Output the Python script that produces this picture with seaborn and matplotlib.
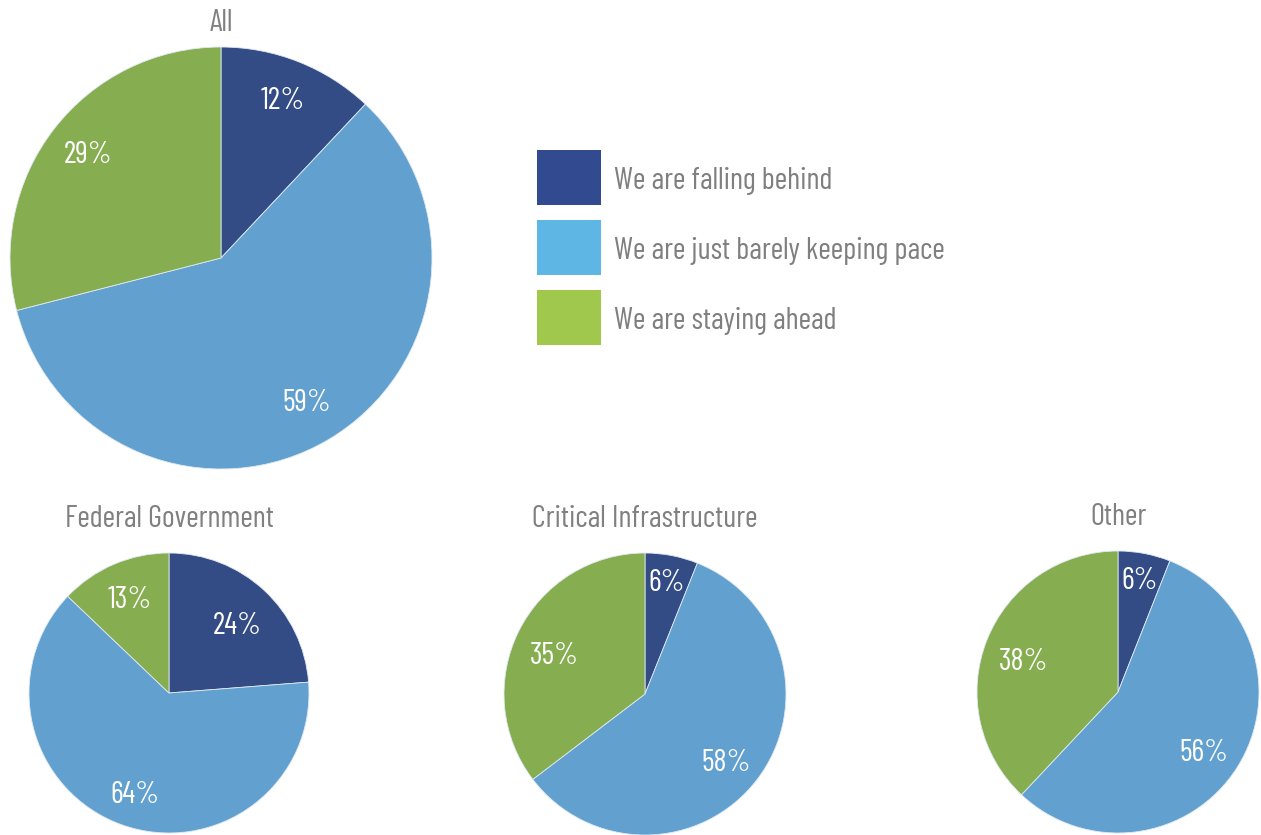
import matplotlib
matplotlib.use("Agg")
import matplotlib.pyplot as plt
from matplotlib.patches import Rectangle
import numpy as np
import seaborn as sns

# Survey responses (percent) per group
categories = ["We are falling behind", "We are just barely keeping pace", "We are staying ahead"]
groups = ["All", "Federal Government", "Critical Infrastructure", "Other"]
all_vals = [12, 59, 29]
federal_vals = [24, 64, 13]
critical_vals = [6, 58, 35]
other_vals = [6, 56, 38]

pie_colors = ["#344c85", "#62a1cf", "#86ad50"]
legend_colors = ["#324a8f", "#5db6e4", "#a0c84c"]
title_color = "#808080"

sns.set_theme(style="white")
plt.rcParams["font.family"] = ["Barlow Condensed", "Roboto Condensed",
                               "Open Sans Condensed", "DejaVu Sans"]

W, H = 1261, 835
fig = plt.figure(figsize=(W / 100, H / 100), dpi=100)
fig.patch.set_facecolor("white")


def pie_axes(cx, cy, r):
    # cx, cy, r in pixels from the top-left corner
    return fig.add_axes([(cx - r) / W, (H - cy - r) / H, 2 * r / W, 2 * r / H])


def draw_pie(ax, vals, title, big=False):
    wedges, _ = ax.pie(vals, colors=pie_colors, startangle=90, counterclock=False,
                       radius=1.0, wedgeprops=dict(linewidth=0.6, edgecolor="#dfe9f2"))
    total = float(sum(vals))
    for w, v in zip(wedges, vals):
        mid = np.deg2rad((w.theta1 + w.theta2) / 2)
        if big:
            d, dy = 0.8, 0.0
        else:
            d = 0.8 if v / total < 0.1 else 0.72
            dy = 0.0 if v / total < 0.15 else -0.05
        ax.text(d * np.cos(mid), d * np.sin(mid) + dy, f"{v}%", color="white",
                ha="center", va="center", fontsize=22)
    ax.set_xlim(-1, 1)
    ax.set_ylim(-1, 1)
    ax.set_aspect("equal")
    ax.axis("off")
    ax.set_title(title, color=title_color, fontsize=22, pad=11.5 if big else 19)


draw_pie(pie_axes(221, 258, 211), all_vals, groups[0], big=True)
draw_pie(pie_axes(169, 693, 140), federal_vals, groups[1])
draw_pie(pie_axes(645, 694, 141), critical_vals, groups[2])
draw_pie(pie_axes(1118, 692, 141), other_vals, groups[3])

# Legend: colour swatches with labels, stacked vertically
for i, (lab, col) in enumerate(zip(categories, legend_colors)):
    top = 150 + i * 70
    fig.add_artist(Rectangle((537 / W, (H - top - 55) / H), 64 / W, 55 / H,
                             transform=fig.transFigure, facecolor=col,
                             edgecolor="none"))
    fig.text(614 / W, (H - top - 31) / H, lab, color="#7f7f7f", fontsize=22,
             ha="left", va="center")

fig.savefig("out.png", dpi=100, facecolor="white")
